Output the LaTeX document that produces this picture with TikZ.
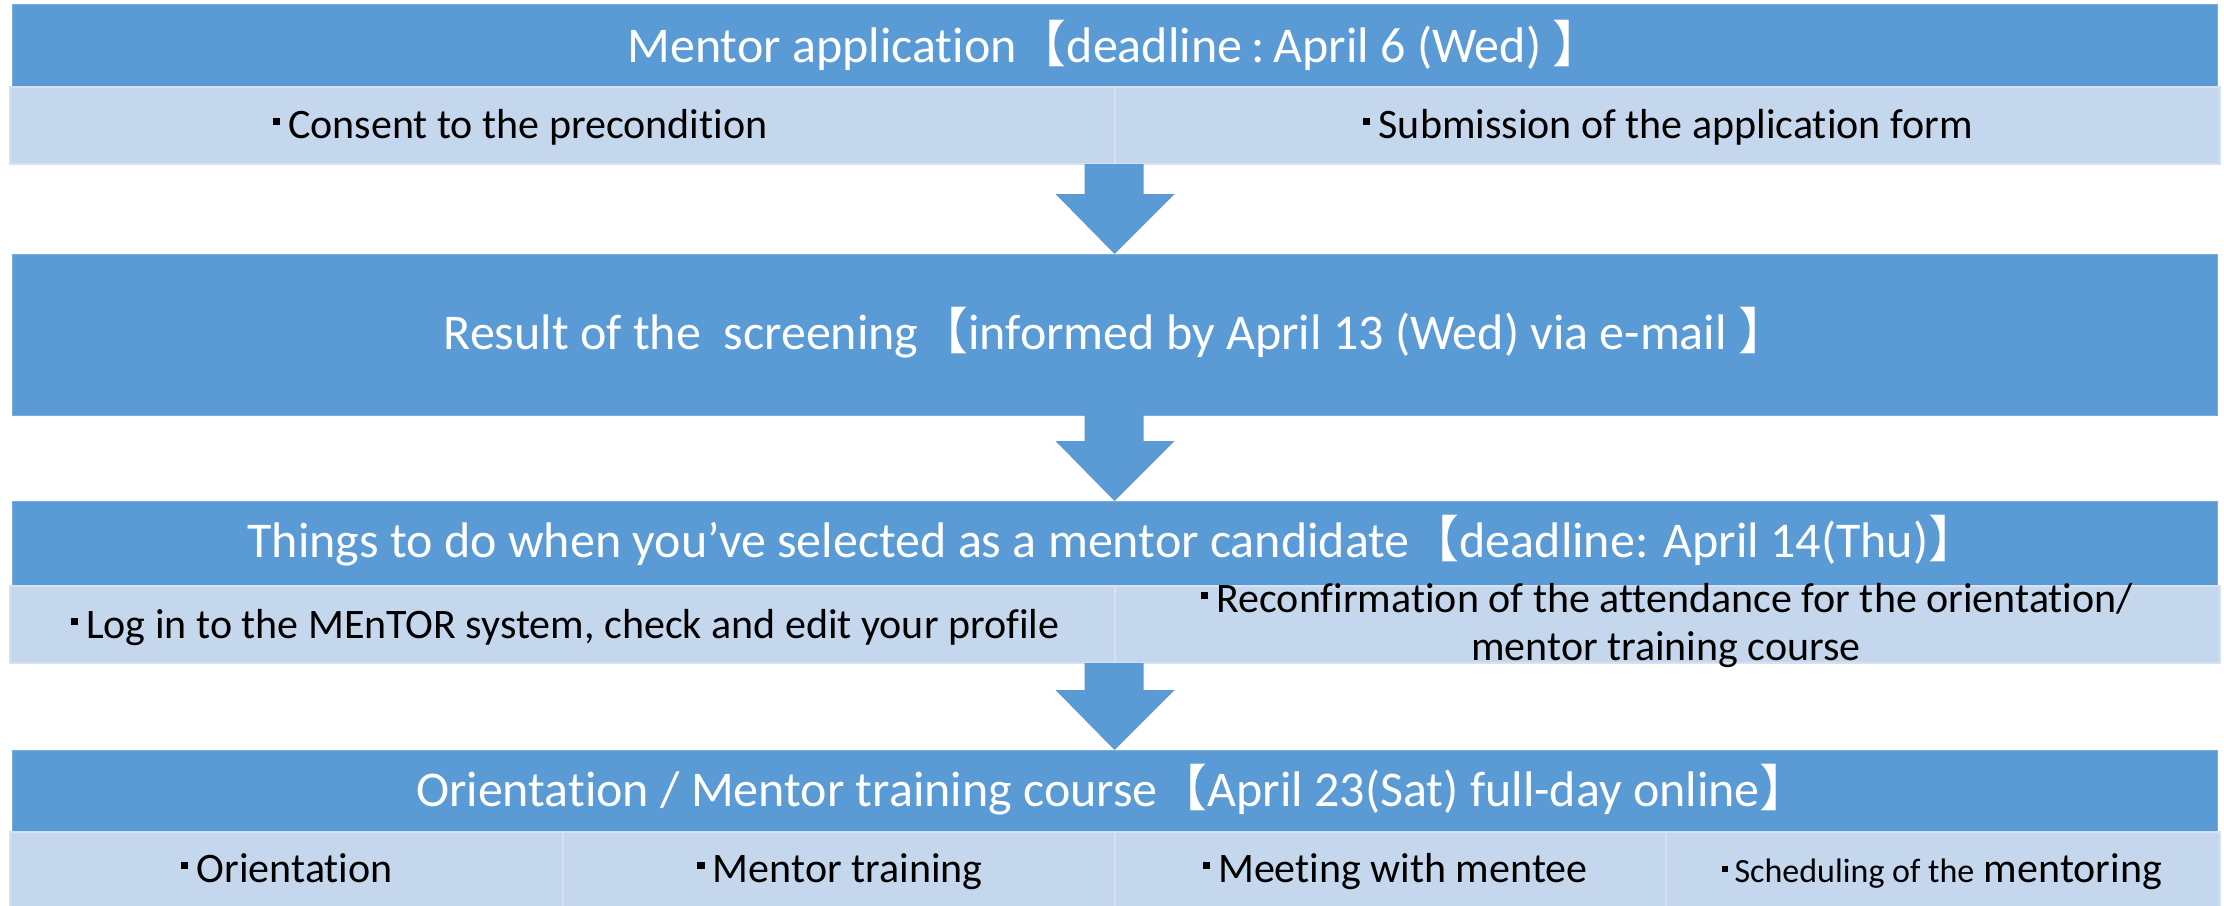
\documentclass[tikz,border=0pt]{standalone}
\usepackage{fontspec}
\setmainfont{Carlito}[Ligatures=NoCommon]
\newfontfamily\cjkfont{Noto Sans CJK JP}
\usetikzlibrary{calc}
\definecolor{dblue}{RGB}{91,155,213}
\definecolor{dborder}{RGB}{120,172,222}
\definecolor{lblue}{RGB}{197,215,236}
\definecolor{lborder}{RGB}{214,226,241}
\newcommand\sqbul{\raisebox{0.3em}{\rule{0.17em}{0.17em}}\hspace{0.2em}}
\newcommand\lbk{{\cjkfont 【}}
\newcommand\rbk{{\cjkfont 】}}
\newcommand\fcolon{\hspace{0.18em}:\hspace{0.18em}}
\newcommand\blockarrow[2]{%
  \fill[dblue] let \p1=(#1), \p2=(#2) in
   (\x2-30pt,\y1) -- (\x2+29pt,\y1) -- (\x2+29pt,\y2+60pt) -- (\x2+60pt,\y2+60pt)
   -- (\x2,\y2) -- (\x2-59pt,\y2+60pt) -- (\x2-30pt,\y2+60pt) -- cycle;}
\begin{document}
\begin{tikzpicture}[x=1pt,y=-1pt,
  hbox/.style={fill=dblue, draw=dborder, line width=1pt, anchor=north west,
    inner sep=0pt, outer sep=0pt, minimum width=2205pt},
  cell/.style={fill=lblue, draw=lborder, line width=1.5pt, anchor=north west,
    inner sep=0pt, outer sep=0pt},
  htext/.style={anchor=base, inner sep=0pt, text=white, font=\fontsize{50}{60}\selectfont},
  stext/.style={anchor=base, inner sep=0pt, text=black, font=\fontsize{42}{48}\selectfont}]
\useasboundingbox (0,0) rectangle (2224,905);
\fill[white] (0,0) rectangle (2224,905);
% headers
\node[hbox, minimum height=83pt] (h1) at (12,4) {};
\node[hbox, minimum height=161pt] (h2) at (12,254) {};
\node[hbox, minimum height=85pt] (h3) at (12,501) {};
\node[hbox, minimum height=82pt] (h4) at (12,750) {};
% cells
\node[cell, minimum width=1105pt, minimum height=77pt] (c1a) at (10,87) {};
\node[cell, minimum width=1105pt, minimum height=77pt] (c1b) at (1115,87) {};
\node[cell, minimum width=1105pt, minimum height=77pt] (c3a) at (10,586) {};
\node[cell, minimum width=1105pt, minimum height=77pt] (c3b) at (1115,586) {};
\node[cell, minimum width=553pt, minimum height=75pt] (c4a) at (10,832) {};
\node[cell, minimum width=552pt, minimum height=75pt] (c4b) at (563,832) {};
\node[cell, minimum width=551pt, minimum height=75pt] (c4c) at (1115,832) {};
\node[cell, minimum width=554pt, minimum height=75pt] (c4d) at (1666,832) {};
% arrows
\blockarrow{c1a.south east}{h2.north}
\blockarrow{h2.south}{h3.north}
\blockarrow{c3a.south east}{h4.north}
% texts
\node[htext] (t1) at (1115,62) {Mentor application\lbk deadline\fcolon April 6 (Wed) \rbk};
\node[stext] (s1a) at (520,138) {\sqbul Consent to the precondition};
\node[stext] (s1b) at (1668,138) {\sqbul Submission of the application form};
\node[htext] (t2) at (1116,349) {Result of the\ \ screening\lbk informed by April 13 (Wed) via e-mail \rbk};
\node[htext] (t3) at (1113,557) {Things to do when you’ve selected as a mentor candidate\lbk deadline: April 14(Thu)\rbk};
\node[stext] (s3a) at (565,638) {\sqbul Log in to the MEnTOR system, check and edit your profile};
\node[stext] (s3b1) at (1667,612) {\sqbul Reconfirmation of the attendance for the orientation/};
\node[stext] (s3b2) at (1666,660) {mentor training course};
\node[htext] (t4) at (1113,806) {Orientation / Mentor training course\lbk April 23(Sat) full-day online\rbk};
\node[stext] (s4a) at (287,882) {\sqbul Orientation};
\node[stext] (s4b) at (840,882) {\sqbul Mentor training};
\node[stext] (s4c) at (1395,882) {\sqbul Meeting with mentee};
\node[stext] (s4d) at (1942,882) {{\fontsize{34}{40}\selectfont\sqbul Scheduling of the} mentoring};
\end{tikzpicture}
\end{document}
